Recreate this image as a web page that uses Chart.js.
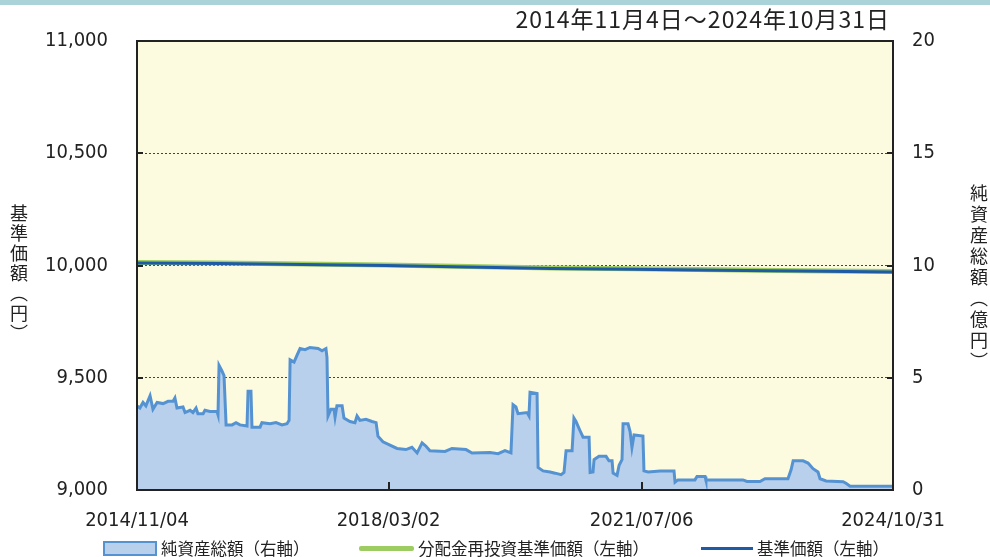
<!DOCTYPE html>
<html>
<head>
<meta charset="utf-8">
<script src="https://cdn.jsdelivr.net/npm/chart.js@4"></script>
<style>
  body { margin: 0; background: #fff; }
  #wrap { position: relative; width: 990px; height: 557px; overflow: hidden; }
  #topbar { position: absolute; left: 0; top: 0; width: 990px; height: 5px; background: #a9d3d8; }
  .jp { font-family: "Noto Sans CJK JP", sans-serif; color: #222; position: absolute; }
  #period { right: 100px; top: 1px; font-size: 23px; letter-spacing: 1px; }
  .vt { writing-mode: vertical-rl; text-orientation: upright; font-size: 18px; line-height: 1; }
  #ytitleL { left: 10px; top: 204px; letter-spacing: 2px; }
  #ytitleR { left: 970px; top: 184px; letter-spacing: 3px; }
  #legend { left: 0; top: 536px; width: 990px; font-size: 16.5px; }
  .item { position: absolute; top: 0; display: flex; align-items: center; white-space: nowrap; }
  .sw { display: inline-block; margin-right: 4px; }
</style>
</head>
<body>
<div id="wrap">
  <canvas id="c" width="990" height="557"></canvas>
  <div id="topbar"></div>
  <div id="period" class="jp">2014年11月4日～2024年10月31日</div>
  <div id="ytitleL" class="jp vt">基準価額（円）</div>
  <div id="ytitleR" class="jp vt">純資産総額（億円）</div>
  <div id="legend" class="jp"></div>
</div>
<script>
// days counted from 2014/11/04
const assetDays = [0, 14, 29, 43, 63, 77, 97, 126, 150, 174, 183, 193, 222, 232, 256, 270, 285, 294, 319, 328,
  352, 386, 391, 396, 410, 420, 430, 459, 478, 497, 531, 536, 550, 555, 594, 603, 642, 671, 700, 724,
  734, 739, 758, 772, 787, 811, 835, 874, 893, 912, 917, 922, 936, 951, 956, 965, 990, 999, 1028, 1052,
  1062, 1076, 1105, 1134, 1154, 1163, 1187, 1221, 1255, 1298, 1327, 1352, 1376, 1395, 1414, 1487, 1520, 1588, 1617, 1704,
  1743, 1776, 1805, 1815, 1829, 1839, 1883, 1892, 1897, 1931, 1936, 1960, 1994, 2018, 2047, 2061, 2071, 2100, 2109, 2119,
  2138, 2153, 2182, 2187, 2201, 2206, 2230, 2264, 2278, 2293, 2298, 2317, 2327, 2341, 2346, 2370, 2380, 2389, 2399, 2442,
  2447, 2467, 2525, 2592, 2597, 2611, 2693, 2703, 2742, 2746, 2925, 2944, 3007, 3031, 3142, 3157, 3167, 3215, 3239, 3263,
  3287, 3297, 3326, 3408, 3422, 3442, 3649];
// 純資産総額 (億円)
const assetValues = [3.75, 3.65, 3.9, 3.75, 4.2, 3.6, 3.9, 3.85, 3.95, 3.95, 4.1, 3.65, 3.7, 3.45, 3.55, 3.45, 3.65, 3.4, 3.4, 3.55,
  3.5, 3.5, 3.35, 5.55, 5.3, 5.1, 2.9, 2.9, 3.0, 2.9, 2.85, 4.4, 4.4, 2.8, 2.8, 3.0, 2.95, 3.0, 2.9, 2.95,
  3.1, 5.8, 5.7, 6.0, 6.3, 6.25, 6.35, 6.3, 6.2, 6.3, 5.9, 3.3, 3.6, 3.6, 3.25, 3.75, 3.75, 3.2, 3.05, 3.0,
  3.3, 3.1, 3.15, 3.05, 3.0, 2.4, 2.15, 2.0, 1.85, 1.8, 1.9, 1.65, 2.1, 1.95, 1.75, 1.72, 1.85, 1.8, 1.65, 1.67,
  1.62, 1.75, 1.65, 3.8, 3.7, 3.4, 3.45, 3.3, 4.35, 4.3, 1.0, 0.85, 0.8, 0.75, 0.68, 0.78, 1.75, 1.75, 3.2, 3.05,
  2.65, 2.35, 2.35, 0.78, 0.8, 1.35, 1.5, 1.5, 1.3, 1.3, 0.75, 0.65, 1.1, 1.35, 2.95, 2.95, 2.6, 1.9, 2.45, 2.4,
  0.85, 0.8, 0.85, 0.85, 0.35, 0.45, 0.45, 0.6, 0.6, 0.45, 0.45, 0.38, 0.38, 0.5, 0.5, 0.9, 1.3, 1.3, 1.2, 0.95,
  0.8, 0.5, 0.4, 0.37, 0.3, 0.17, 0.17];

const priceDays = [0, 400, 800, 1200, 1600, 2000, 2400, 2800, 3200, 3649];
const reinvestValues = [10013, 10011, 10007, 10002, 9995, 9989, 9985, 9981, 9977, 9973];
const navValues = [10011, 10009, 10005, 10000, 9993, 9987, 9983, 9979, 9975, 9971];

const tickDays = [0, 1214, 2436, 3649];
const tickLabels = ['2014/11/04', '2018/03/02', '2021/07/06', '2024/10/31'];
const leftTicks = [9000, 9500, 10000, 10500, 11000];
const rightTicks = [0, 5, 10, 15, 20];

const legendNames = ['純資産総額（右軸）', '分配金再投資基準価額（左軸）', '基準価額（左軸）'];

const numFont = { family: "'Liberation Sans Narrow', 'DejaVu Sans Condensed', sans-serif", size: 20 };
const pts = (xs, ys) => xs.map((d, i) => ({ x: d, y: ys[i] }));

// plot background, frame and inward tick marks
const framePlugin = {
  id: 'frame',
  beforeDraw(chart) {
    const a = chart.chartArea, g = chart.ctx;
    g.save();
    g.fillStyle = '#fcfbe0';
    g.fillRect(a.left, a.top, a.right - a.left, a.bottom - a.top);
    g.restore();
  },
  afterDraw(chart) {
    const a = chart.chartArea, g = chart.ctx;
    const x = chart.scales.x, y = chart.scales.y;
    g.save();
    g.strokeStyle = '#222';
    g.lineWidth = 2;
    g.strokeRect(a.left, a.top, a.right - a.left, a.bottom - a.top);
    g.beginPath();
    tickDays.slice(1, -1).forEach(d => {
      const px = Math.round(x.getPixelForValue(d));
      g.moveTo(px, a.bottom); g.lineTo(px, a.bottom - 8);
    });
    leftTicks.slice(1, -1).forEach(v => {
      const py = Math.round(y.getPixelForValue(v));
      g.moveTo(a.left, py); g.lineTo(a.left + 6, py);
      g.moveTo(a.right, py); g.lineTo(a.right - 6, py);
    });
    g.stroke();
    g.restore();
  }
};

new Chart(document.getElementById('c'), {
  type: 'line',
  data: {
    datasets: [
      {
        label: legendNames[2],
        data: pts(priceDays, navValues),
        yAxisID: 'y',
        borderColor: '#1f5aa6',
        borderWidth: 3,
        pointRadius: 0,
        order: 1
      },
      {
        label: legendNames[1],
        data: pts(priceDays, reinvestValues),
        yAxisID: 'y',
        borderColor: '#9ccc62',
        borderWidth: 5,
        pointRadius: 0,
        order: 2
      },
      {
        label: legendNames[0],
        data: pts(assetDays, assetValues),
        yAxisID: 'y2',
        borderColor: '#5592d2',
        backgroundColor: '#b8d0ec',
        borderWidth: 3,
        fill: 'origin',
        pointRadius: 0,
        order: 3
      }
    ]
  },
  options: {
    responsive: false,
    animation: false,
    layout: { padding: { top: 39, bottom: 0, left: 0, right: 0 } },
    plugins: { legend: { display: false }, tooltip: { enabled: false } },
    scales: {
      x: {
        type: 'linear',
        min: 0,
        max: 3649,
        afterBuildTicks: s => { s.ticks = tickDays.map(v => ({ value: v })); },
        afterFit: s => { s.height = 67; },
        grid: { display: false },
        border: { display: false },
        ticks: {
          font: numFont, color: '#222', padding: 11, maxRotation: 0, autoSkip: false,
          callback: v => tickLabels[tickDays.indexOf(v)]
        }
      },
      y: {
        position: 'left',
        min: 9000,
        max: 11000,
        afterBuildTicks: s => { s.ticks = leftTicks.map(v => ({ value: v })); },
        afterFit: s => { s.width = 137; },
        border: { display: false, dash: [2, 2] },
        grid: {
          drawTicks: false,
          color: c => (c.tick.value === 9000 || c.tick.value === 11000) ? 'rgba(0,0,0,0)' : '#444',
          lineWidth: 1
        },
        ticks: {
          font: numFont, color: '#222', padding: 29,
          callback: v => v.toLocaleString('en-US')
        }
      },
      y2: {
        position: 'right',
        min: 0,
        max: 20,
        afterBuildTicks: s => { s.ticks = rightTicks.map(v => ({ value: v })); },
        afterFit: s => { s.width = 97; },
        border: { display: false },
        grid: { drawOnChartArea: false, drawTicks: false },
        ticks: { font: numFont, color: '#222', padding: 19 }
      }
    }
  },
  plugins: [framePlugin]
});

// legend
const legend = document.getElementById('legend');
const swatches = [
  { left: 103, html: '<span class="sw" style="width:50px;height:11px;background:#b8d0ec;border:2px solid #5592d2"></span>' },
  { left: 359, html: '<span class="sw" style="width:55px;height:5px;background:#9ccc62;border-radius:2px"></span>' },
  { left: 701, html: '<span class="sw" style="width:52px;height:3px;background:#1f5aa6"></span>' }
];
swatches.forEach((s, i) => {
  const d = document.createElement('div');
  d.className = 'item';
  d.style.left = s.left + 'px';
  d.innerHTML = s.html + '<span>' + legendNames[i] + '</span>';
  legend.appendChild(d);
});
</script>
</body>
</html>
